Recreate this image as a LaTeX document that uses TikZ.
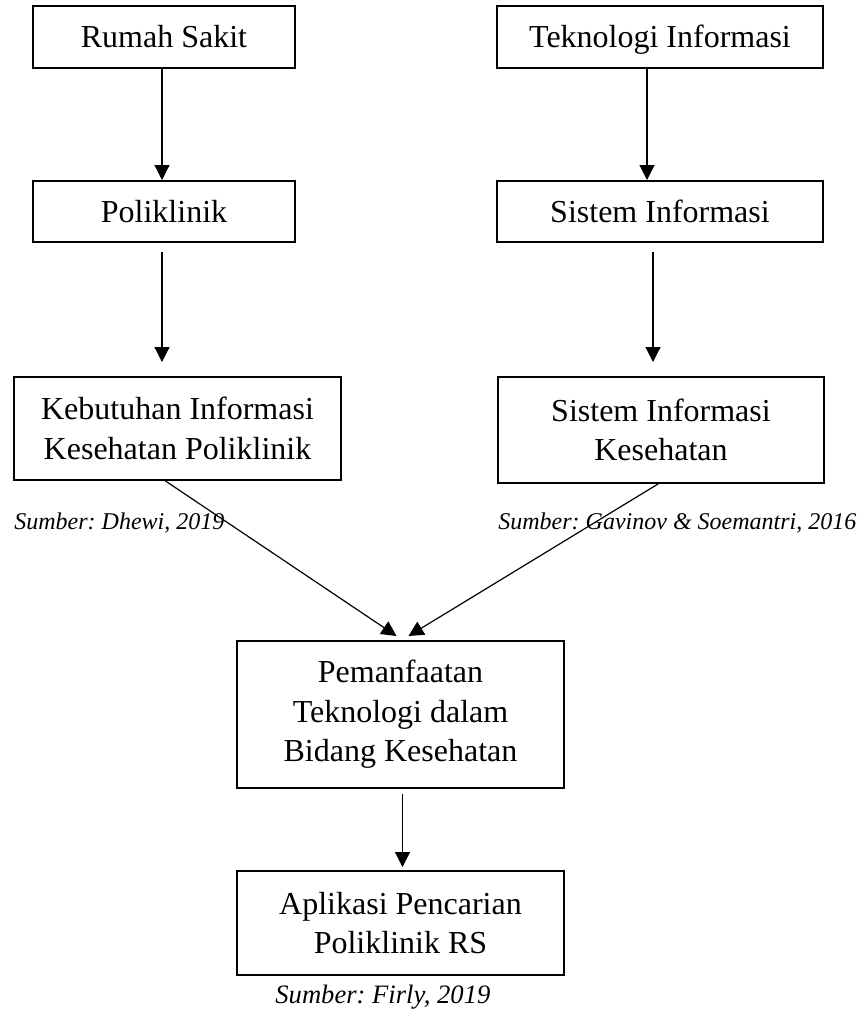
\documentclass[tikz,border=0pt]{standalone}
\usepackage{fontspec}
\setmainfont{Liberation Serif}
\usetikzlibrary{arrows.meta}
\frenchspacing
\begin{document}
\tikzset{kotak/.style={draw, line width=1pt, align=center, inner sep=0pt,
    font=\fontsize{16}{19.7}\selectfont},
  kotaksatu/.style={kotak, text height=11pt, text depth=0pt},
  panah/.style={-{Triangle[length=7.5pt,width=7.5pt]}, line width=0.6pt},
  sumber/.style={inner sep=0pt, font=\fontsize{12}{14}\selectfont\itshape}}

\begin{tikzpicture}[x=0.5pt,y=-0.5pt]
\useasboundingbox (0,0) rectangle (860,1011);
% kolom kiri
\node[kotaksatu, minimum width=131pt, minimum height=31pt] (rs) at (164,37) {Rumah Sakit};
\node[kotaksatu, minimum width=131pt, minimum height=30.5pt] (poli) at (164,211.5) {Poliklinik};
\node[kotak, minimum width=163.5pt, minimum height=51.5pt] (keb) at (177.5,428.5) {Kebutuhan Informasi\\Kesehatan Poliklinik};
% kolom kanan
\node[kotaksatu, minimum width=163pt, minimum height=31pt] (ti) at (660,37) {Teknologi Informasi};
\node[kotaksatu, minimum width=163pt, minimum height=30.5pt] (si) at (660,211.5) {Sistem Informasi};
\node[kotak, minimum width=163pt, minimum height=53pt] (sik) at (661,430) {Sistem Informasi\\Kesehatan};
% tengah
\node[kotak, minimum width=163.5pt, minimum height=73.5pt] (pem) at (400.5,714.5) {Pemanfaatan\\Teknologi dalam\\Bidang Kesehatan};
\node[kotak, minimum width=163.5pt, minimum height=52pt] (apl) at (400.5,923) {Aplikasi Pencarian\\Poliklinik RS};
% sumber
\node[sumber, anchor=base west] (src1) at (14,529) {Sumber: Dhewi, 2019};
\node[sumber, anchor=base west] (src2) at (498,529) {Sumber: Gavinov \& Soemantri, 2016};
\node[sumber, anchor=base west, font=\fontsize{13.3}{15}\selectfont\itshape] (src3) at (275,1003) {Sumber: Firly, 2019};
% panah
\draw[panah] ([xshift=-1pt]rs.south) -- ([xshift=-1pt]poli.north);
\draw[panah, shorten <=4.5pt, shorten >=7pt] ([xshift=-1pt]poli.south) -- ([xshift=-1pt]poli.south |- keb.north);
\draw[panah] ([xshift=-6.5pt]ti.south) -- ([xshift=-6.5pt]si.north);
\draw[panah, shorten <=4.5pt, shorten >=7pt] ([xshift=-3.5pt]si.south) -- ([xshift=-3.5pt]si.south |- sik.north);
\draw[panah] ([xshift=-6pt]keb.south) -- ([xshift=-2pt,yshift=2pt]pem.north);
\draw[panah] ([xshift=-1.5pt]sik.south) -- ([xshift=4pt,yshift=2pt]pem.north);
\draw[panah, shorten <=2.5pt, shorten >=1.5pt] ([xshift=1pt]pem.south) -- ([xshift=1pt]apl.north);
\end{tikzpicture}
\end{document}
